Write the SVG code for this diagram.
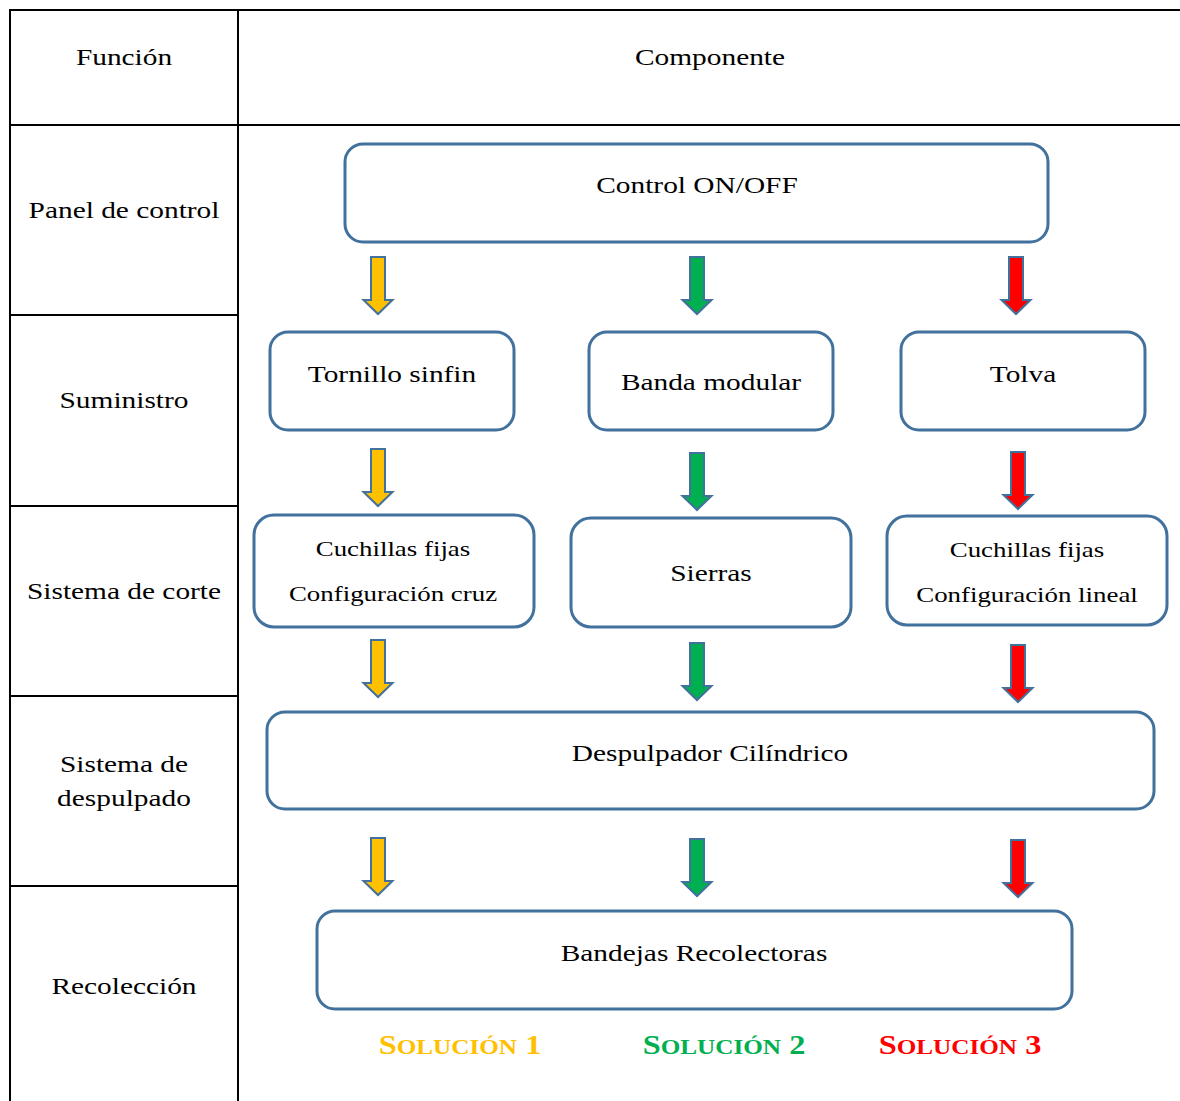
<svg xmlns="http://www.w3.org/2000/svg" width="1180" height="1101" viewBox="0 0 1180 1101">
<style>
text{font-family:"Liberation Serif","Times New Roman",serif;font-size:23.5px;fill:#000;text-anchor:middle}
text.sm{font-size:21.5px}
.grid{stroke:#000;stroke-width:2;fill:none}
.box{fill:#fff;stroke:#41719C;stroke-width:3}
.arr{stroke:#41719C;stroke-width:2;stroke-linejoin:miter}
.y{fill:#FFC000}.g{fill:#00B050}.r{fill:#FF0000}
text.sol{font-weight:bold;font-size:27px}
</style>
<defs>
<path id="ar" d="M-7,0 H7 V43 H14.5 L0,57 L-14.5,43 H-7 Z"/>
</defs>
<rect width="1180" height="1101" fill="#fff"/>
<g id="table">
<path class="grid" d="M10,1101 V10 H1180 M238,10 V1101 M10,125 H1180 M10,315 H238 M10,506 H238 M10,696 H238 M10,886 H238"/>
<text transform="translate(124,65) scale(1.25,1)">Función</text>
<text transform="translate(710,65) scale(1.25,1)">Componente</text>
<text transform="translate(124,218) scale(1.25,1)">Panel de control</text>
<text transform="translate(124,408) scale(1.25,1)">Suministro</text>
<text transform="translate(124,599) scale(1.25,1)">Sistema de corte</text>
<text transform="translate(124,772) scale(1.25,1)">Sistema de</text>
<text transform="translate(124,806) scale(1.25,1)">despulpado</text>
<text transform="translate(124,994) scale(1.25,1)">Recolección</text>
</g>
<g id="connectors">
<use href="#ar" class="arr y" x="378" y="257"/>
<use href="#ar" class="arr g" x="697" y="257"/>
<use href="#ar" class="arr r" x="1016" y="257"/>
<use href="#ar" class="arr y" x="378" y="449"/>
<use href="#ar" class="arr g" x="697" y="453"/>
<use href="#ar" class="arr r" x="1018" y="452"/>
<use href="#ar" class="arr y" x="378" y="640"/>
<use href="#ar" class="arr g" x="697" y="643"/>
<use href="#ar" class="arr r" x="1018" y="645"/>
<use href="#ar" class="arr y" x="378" y="838"/>
<use href="#ar" class="arr g" x="697" y="839"/>
<use href="#ar" class="arr r" x="1018" y="840"/>
</g>
<g id="control"><rect class="box" x="345" y="144" width="703" height="98" rx="18"/><text transform="translate(697,193) scale(1.25,1)">Control ON/OFF</text></g>
<g id="tornillo"><rect class="box" x="270" y="332" width="244" height="98" rx="18"/><text transform="translate(392,382) scale(1.25,1)">Tornillo sinfin</text></g>
<g id="banda"><rect class="box" x="589" y="332" width="244" height="98" rx="18"/><text transform="translate(711,390) scale(1.25,1)">Banda modular</text></g>
<g id="tolva"><rect class="box" x="901" y="332" width="244" height="98" rx="18"/><text transform="translate(1023,382) scale(1.25,1)">Tolva</text></g>
<g id="cuchillas-cruz"><rect class="box" x="254" y="515" width="280" height="112" rx="20"/><text class="sm" transform="translate(393,556) scale(1.25,1)">Cuchillas fijas</text><text class="sm" transform="translate(393,601) scale(1.25,1)">Configuración cruz</text></g>
<g id="sierras"><rect class="box" x="571" y="518" width="280" height="109" rx="20"/><text transform="translate(711,581) scale(1.25,1)">Sierras</text></g>
<g id="cuchillas-lineal"><rect class="box" x="887" y="516" width="280" height="109" rx="20"/><text class="sm" transform="translate(1027,557) scale(1.25,1)">Cuchillas fijas</text><text class="sm" transform="translate(1027,602) scale(1.25,1)">Configuración lineal</text></g>
<g id="despulpador"><rect class="box" x="267" y="712" width="887" height="97" rx="18"/><text transform="translate(710,761) scale(1.25,1)">Despulpador Cilíndrico</text></g>
<g id="bandejas"><rect class="box" x="317" y="911" width="755" height="98" rx="18"/><text transform="translate(694,961) scale(1.25,1)">Bandejas Recolectoras</text></g>
<g id="soluciones">
<text class="sol" transform="translate(460,1054) scale(1.2,1)" style="fill:#FFC000">S<tspan font-size="21">OLUCIÓN</tspan> 1</text>
<text class="sol" transform="translate(724,1054) scale(1.2,1)" style="fill:#00B050">S<tspan font-size="21">OLUCIÓN</tspan> 2</text>
<text class="sol" transform="translate(960,1054) scale(1.2,1)" style="fill:#FF0000">S<tspan font-size="21">OLUCIÓN</tspan> 3</text>
</g>
</svg>
